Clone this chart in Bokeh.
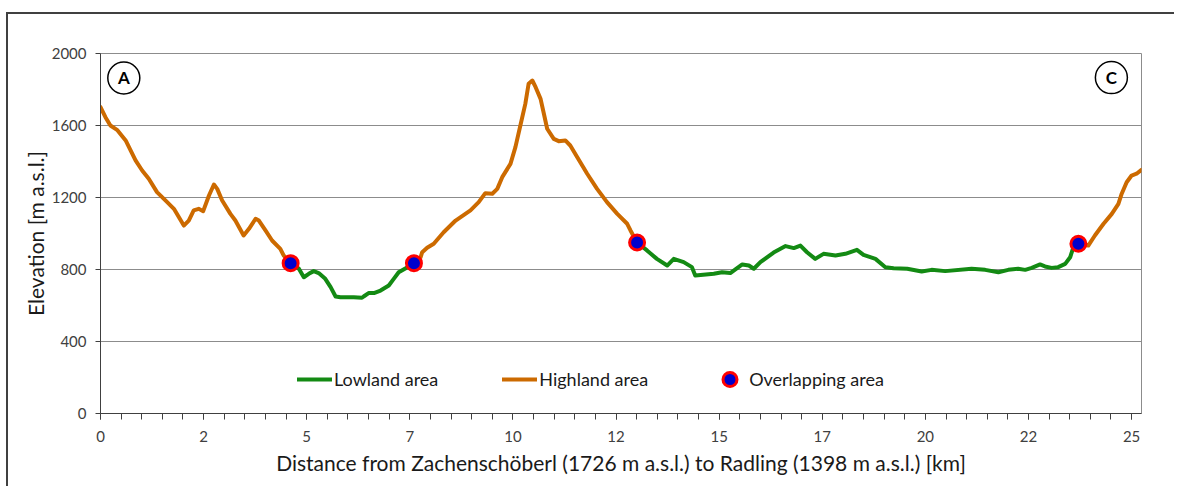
from bokeh.plotting import figure
from bokeh.models import (Range1d, FixedTicker, CustomJSTickFormatter, Legend, LegendItem,
                          ColumnDataSource)
from bokeh.core.properties import value
from bokeh.embed import file_html
from bokeh.resources import INLINE

# ---------------- data (distance km, elevation m a.s.l.) ----------------
hi1_km = [0.00, 0.12, 0.24, 0.40, 0.61, 0.85, 1.01, 1.17, 1.37, 1.58, 1.78, 2.02, 2.14, 2.26, 2.38,
          2.49, 2.63, 2.75, 2.83, 2.95, 3.15, 3.27, 3.47, 3.60, 3.76, 3.84, 4.00, 4.16, 4.36, 4.44, 4.61]
hi1_m = [1702, 1646, 1600, 1576, 1517, 1406, 1350, 1304, 1230, 1183, 1137, 1044, 1072, 1128, 1137,
         1124, 1211, 1272, 1248, 1183, 1109, 1072, 989, 1026, 1082, 1072, 1017, 961, 915, 878, 835]

lo1_km = [4.61, 4.81, 4.93, 5.05, 5.17, 5.29, 5.45, 5.58, 5.70, 5.82, 6.14, 6.34, 6.38, 6.50, 6.63,
          6.79, 6.99, 7.11, 7.23, 7.39, 7.60]
lo1_m = [835, 804, 757, 776, 791, 780, 748, 702, 650, 646, 646, 643, 650, 669, 669,
         683, 711, 748, 785, 806, 835]

hi2_km = [7.60, 7.76, 7.80, 7.92, 8.08, 8.32, 8.61, 8.97, 9.17, 9.33, 9.50, 9.62, 9.74, 9.94, 10.06,
          10.18, 10.30, 10.38, 10.47, 10.55, 10.67, 10.75, 10.83, 10.99, 11.11, 11.27, 11.39, 11.56,
          11.80, 12.04, 12.28, 12.53, 12.77, 12.85, 13.01]
hi2_m = [835, 868, 896, 921, 943, 1007, 1072, 1128, 1174, 1224, 1221, 1248, 1313, 1387, 1480,
         1600, 1720, 1832, 1850, 1813, 1748, 1665, 1582, 1526, 1513, 1517, 1489, 1424,
         1332, 1248, 1174, 1109, 1054, 1017, 950]

lo2_km = [13.01, 13.25, 13.49, 13.74, 13.90, 14.14, 14.34, 14.42, 14.87, 15.07, 15.27, 15.56, 15.72,
          15.84, 16.00, 16.32, 16.61, 16.81, 16.97, 17.13, 17.33, 17.53, 17.82, 18.06, 18.34, 18.50,
          18.79, 19.03, 19.23, 19.56, 19.91, 20.15, 20.48, 21.12, 21.45, 21.77, 22.01, 22.25, 22.42,
          22.58, 22.78, 22.90, 23.06, 23.22, 23.39, 23.51, 23.59, 23.71]
lo2_m = [950, 906, 859, 822, 859, 841, 813, 767, 776, 785, 780, 828, 822,
         804, 841, 894, 930, 919, 933, 896, 859, 887, 878, 887, 909, 881,
         859, 813, 807, 804, 789, 798, 791, 804, 798, 785, 798, 804, 798,
         809, 828, 817, 809, 813, 831, 868, 924, 943]

hi3_km = [23.71, 23.95, 24.11, 24.32, 24.52, 24.68, 24.76, 24.88, 25.00, 25.12, 25.24]
hi3_m = [943, 933, 989, 1054, 1109, 1165, 1221, 1285, 1322, 1332, 1354]

overlap_km = [4.61, 7.60, 13.01, 23.71]
overlap_m = [835, 835, 950, 943]

point_labels = ["A", "C"]
point_km = [0.565, 24.51]
point_m = [1864, 1866]

x_major = [0, 2.5, 5, 7.5, 10, 12.5, 15, 17.5, 20, 22.5, 25]
x_minor = [i * 0.5 for i in range(51)]
y_ticks = [0, 400, 800, 1200, 1600, 2000]

x_title = "Distance from Zachenschöberl (1726 m a.s.l.) to Radling (1398 m a.s.l.) [km]"
y_title = "Elevation [m a.s.l.]"

GREEN = "#138a13"
ORANGE = "#cc6a00"
FONT = "Lato"

p = figure(width=1168, height=474, output_backend="svg", toolbar_location=None,
           x_range=Range1d(0, 25.24), y_range=Range1d(0, 2000),
           min_border_left=92, min_border_right=35, min_border_top=39, min_border_bottom=75)
p.margin = (12, 0, 0, 6)
p.styles = {"border-left": "2px solid #404040", "border-top": "2px solid #404040"}

p.background_fill_color = "white"
p.border_fill_color = "white"
p.outline_line_color = "#8c8c8c"
p.outline_line_width = 1

p.xgrid.visible = False
p.ygrid.grid_line_color = "#8c8c8c"
p.ygrid.grid_line_width = 1

xa = p.xaxis[0]
xa.ticker = FixedTicker(ticks=x_major, minor_ticks=x_minor)
xa.formatter = CustomJSTickFormatter(code="return Math.floor(tick + 1e-6).toString();")
xa.major_tick_out = 6
xa.major_tick_in = 0
xa.minor_tick_out = 6
xa.minor_tick_in = 0
xa.axis_line_color = "#404040"
xa.major_tick_line_color = "#404040"
xa.minor_tick_line_color = "#404040"
xa.major_label_text_font = FONT
xa.major_label_text_font_size = "15px"
xa.major_label_text_color = "#404040"
xa.major_label_standoff = 11
xa.axis_label = x_title
xa.axis_label_text_font = FONT
xa.axis_label_text_font_size = "21px"
xa.axis_label_text_font_style = "normal"
xa.axis_label_text_color = "#1a1a1a"
xa.axis_label_standoff = 5

ya = p.yaxis[0]
ya.ticker = FixedTicker(ticks=y_ticks)
ya.major_tick_out = 5
ya.major_tick_in = 0
ya.minor_tick_out = 0
ya.minor_tick_in = 0
ya.axis_line_color = "#404040"
ya.major_tick_line_color = "#404040"
ya.major_label_text_font = FONT
ya.major_label_text_font_size = "15px"
ya.major_label_text_color = "#404040"
ya.major_label_standoff = 9
ya.axis_label = y_title
ya.axis_label_text_font = FONT
ya.axis_label_text_font_size = "21px"
ya.axis_label_text_font_style = "normal"
ya.axis_label_text_color = "#1a1a1a"
ya.axis_label_standoff = 1

lw = 4
r_hi1 = p.line(hi1_km, hi1_m, line_color=ORANGE, line_width=lw, line_join="round", line_cap="round")
r_hi2 = p.line(hi2_km, hi2_m, line_color=ORANGE, line_width=lw, line_join="round", line_cap="round")
r_hi3 = p.line(hi3_km, hi3_m, line_color=ORANGE, line_width=lw, line_join="round", line_cap="round")
r_lo1 = p.line(lo1_km, lo1_m, line_color=GREEN, line_width=lw, line_join="round", line_cap="round")
r_lo2 = p.line(lo2_km, lo2_m, line_color=GREEN, line_width=lw, line_join="round", line_cap="round")

r_ov = p.scatter(overlap_km, overlap_m, marker="circle", size=15, fill_color="#0000cc",
                 line_color="#ff0000", line_width=3)

# circled point labels
p.scatter(point_km, point_m, marker="circle", size=32, fill_color="white",
          line_color="black", line_width=1.5)
src = ColumnDataSource(dict(x=point_km, y=point_m, t=point_labels))
p.text(x="x", y="y", text="t", source=src, text_align="center", text_baseline="middle",
       text_font=value(FONT), text_font_size="17px", text_font_style="bold", text_color="black")

legend = Legend(items=[LegendItem(label="Lowland area", renderers=[r_lo1]),
                       LegendItem(label="Highland area", renderers=[r_hi1]),
                       LegendItem(label="Overlapping area", renderers=[r_ov])],
                orientation="horizontal", location=(197, 16))
legend.glyph_width = 35
legend.glyph_height = 36
legend.label_standoff = 2
legend.spacing = 64
legend.padding = 0
legend.margin = 0
legend.border_line_color = None
legend.background_fill_alpha = 0
legend.label_text_font = FONT
legend.label_text_font_size = "18px"
legend.label_text_color = "#1a1a1a"
p.add_layout(legend)

open("out.html", "w").write(file_html(p, INLINE))
